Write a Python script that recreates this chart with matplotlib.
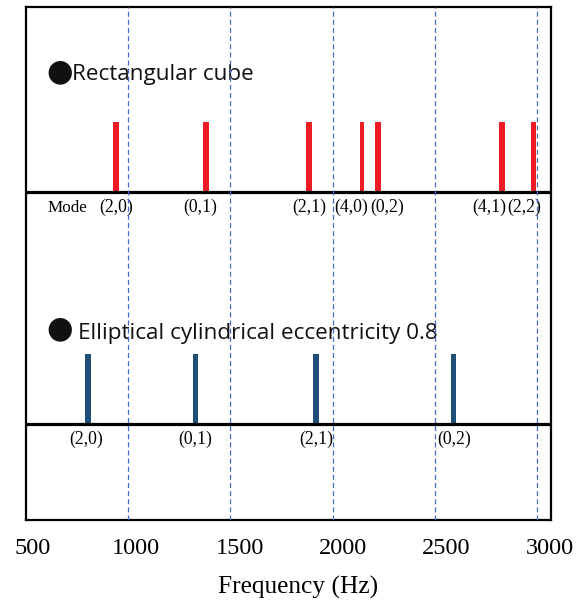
import matplotlib
matplotlib.use("Agg")
import matplotlib.pyplot as plt

# ---------------- data ----------------
rect_modes = ['(2,0)', '(0,1)', '(2,1)', '(4,0)', '(0,2)', '(4,1)', '(2,2)']
rect_freq = [939, 1380, 1884, 2144, 2221, 2828, 2983]
rect_amp = [1, 1, 1, 1, 1, 1, 1]

ell_modes = ['(2,0)', '(0,1)', '(2,1)', '(0,2)']
ell_freq = [804, 1330, 1919, 2592]
ell_amp = [1, 1, 1, 1]

grid_freq = [1000, 1500, 2000, 2500, 3000]
tick_values = [500, 1000, 1500, 2000, 2500, 3000]
tick_labels = ['500', '1000', '1500', '2000', '2500', '3000']

rect_title = 'Rectangular cube'
ell_title = 'Elliptical cylindrical eccentricity 0.8'
xlabel = 'Frequency (Hz)'

# ---------------- style / layout ----------------
RED = '#ED1C24'
BLUE = '#1F4E79'
GRID = '#3C6FD1'
SERIF = 'Liberation Serif'
SANS = ['Open Sans', 'DejaVu Sans']

rect_width = [28, 28, 28, 20, 28, 28, 28]
ell_width = [27, 27, 27, 27]
rect_lab_dx = [0, -6, 0, -11, 9.5, -12, -9]   # pixel offsets of mode labels
ell_lab_dx = [-2, 0, 0, 1]

rect_base = 3.323
ell_base = 0.0
YLIM = (-1.367, 5.957)
XLIM = (500, 3069)

fig = plt.figure(figsize=(5.80, 6.01), dpi=100)
ax = fig.add_axes([26 / 580, 1 - 520 / 601, 525 / 580, 512.7 / 601])
ax.set_xlim(*XLIM)
ax.set_ylim(*YLIM)

for s in ax.spines.values():
    s.set_linewidth(1.6)
    s.set_color('black')

# baselines
ax.axhline(rect_base, color='black', lw=2.3, zorder=3)
ax.axhline(ell_base, color='black', lw=2.3, zorder=3)

# bars
ax.bar(rect_freq, rect_amp, width=rect_width, bottom=rect_base,
       color=RED, zorder=2, align='center')
ax.bar(ell_freq, ell_amp, width=ell_width, bottom=ell_base,
       color=BLUE, zorder=2, align='center')

# dashed grid lines
for g in grid_freq:
    ax.axvline(g, color=GRID, lw=0.9, ls=(0, (4, 2.5)), zorder=5)

# mode labels
for f, m, dx in zip(rect_freq, rect_modes, rect_lab_dx):
    ax.annotate(m, xy=(f, rect_base), xytext=(dx, -16),
                textcoords='offset pixels', ha='center', va='center',
                family=SERIF, fontsize=12.8, zorder=4)
for f, m, dx in zip(ell_freq, ell_modes, ell_lab_dx):
    ax.annotate(m, xy=(f, ell_base), xytext=(dx, -15),
                textcoords='offset pixels', ha='center', va='center',
                family=SERIF, fontsize=12.8, zorder=4)
ax.annotate('Mode', xy=(0, rect_base), xycoords=('axes fraction', 'data'),
            xytext=(22, -16), textcoords='offset pixels',
            ha='left', va='center', family=SERIF, fontsize=12.3)

# section titles
ax.text(0.0638, 0.875, '\u25CF', transform=ax.transAxes, ha='center',
        va='center', family=['DejaVu Sans'], fontsize=22, color='#111111')
ax.text(0.0876, 0.858, rect_title, transform=ax.transAxes, ha='left',
        va='baseline', family=SANS, fontsize=16.2, color='#111111')
ax.text(0.0638, 0.3725, '\u25CF', transform=ax.transAxes, ha='center',
        va='center', family=['DejaVu Sans'], fontsize=22, color='#111111')
ax.text(0.099, 0.353, ell_title, transform=ax.transAxes, ha='left',
        va='baseline', family=SANS, fontsize=16.2, color='#111111')

# ticks: labels sit on a slightly shifted scale, as in the reference
ax.set_xticks([])
ax.set_yticks([])

PX_MAIN = 525 / (XLIM[1] - XLIM[0])
PX_LAB = 0.2068
LAB_SHIFT = 7


def fwd(x):
    return 500 + ((x - 500) * PX_MAIN - LAB_SHIFT) / PX_LAB


def inv(v):
    return 500 + ((v - 500) * PX_LAB + LAB_SHIFT) / PX_MAIN


sec = ax.secondary_xaxis('bottom', functions=(fwd, inv))
sec.set_xticks(tick_values)
sec.set_xticklabels(tick_labels, family=SERIF, fontsize=17.5)
sec.tick_params(length=0, pad=13)
sec.spines['bottom'].set_visible(False)

ax.set_xlabel(xlabel, family=SERIF, fontsize=18.3)
ax.xaxis.set_label_coords(0.519, -0.11)

fig.savefig('out.png', dpi=100)
